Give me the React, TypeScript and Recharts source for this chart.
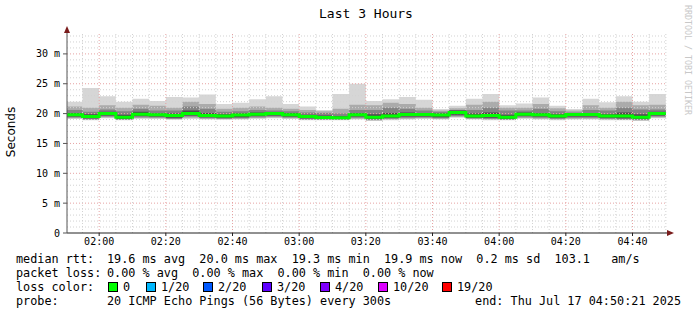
import React from 'react';
import { ComposedChart, Area, Line, XAxis, YAxis, ReferenceLine } from 'recharts';

// 5 minute bins, first one cut by the start of the 3 hour window
const binStarts = [
  '01:50:21', '01:55', '02:00', '02:05', '02:10', '02:15', '02:20', '02:25', '02:30', '02:35', '02:40', '02:45',
  '02:50', '02:55', '03:00', '03:05', '03:10', '03:15', '03:20', '03:25', '03:30', '03:35', '03:40', '03:45',
  '03:50', '03:55', '04:00', '04:05', '04:10', '04:15', '04:20', '04:25', '04:30', '04:35', '04:40', '04:45',
];
const lastBinEnd = '04:50';
const windowStart = '01:50:21';
const windowEnd = '04:50:21';

// rtt in ms, smoke from outside (light) to inside (dark)
const maxRtt = [
  22.0, 24.3, 22.9, 22.0, 22.5, 22.1, 22.8, 22.7, 23.2, 21.6, 21.8, 22.4,
  22.9, 21.6, 21.2, 20.6, 23.3, 25.0, 22.1, 22.4, 22.8, 22.3, 20.75, 21.3,
  22.5, 23.3, 21.4, 21.7, 22.7, 21.3, 20.75, 22.5, 21.9, 22.9, 22.0, 23.3,
];
const hi2 = [
  21.2, 21.0, 21.4, 21.0, 21.5, 21.3, 21.0, 22.0, 21.6, 20.8, 21.0, 21.2,
  21.0, 20.8, 20.6, 20.4, 20.8, 21.5, 21.4, 21.8, 21.6, 21.0, 20.5, 20.9,
  21.5, 22.0, 21.0, 21.0, 21.6, 20.9, 20.5, 21.4, 21.0, 22.0, 21.4, 21.5,
];
const hi3 = [
  20.6, 20.3, 20.7, 20.4, 20.8, 20.5, 20.5, 21.2, 20.8, 20.3, 20.4, 20.6,
  20.5, 20.4, 20.2, 20.1, 20.0, 20.6, 20.6, 21.0, 20.8, 20.5, 20.3, 20.6,
  20.6, 21.0, 20.5, 20.5, 20.8, 20.4, 20.2, 20.6, 20.5, 21.0, 20.7, 20.7,
];
const hi4 = [
  20.1, 19.9, 20.3, 19.8, 20.3, 20.0, 20.0, 20.5, 20.1, 19.9, 20.0, 20.2,
  20.2, 20.1, 19.8, 19.7, 19.6, 20.1, 19.9, 20.1, 20.2, 20.1, 20.0, 20.5,
  20.0, 20.2, 19.8, 20.2, 20.1, 19.9, 20.1, 20.1, 19.9, 20.2, 19.9, 20.3,
];
const medianRtt = [
  19.8, 19.5, 20.0, 19.4, 19.9, 19.8, 19.7, 20.0, 19.7, 19.6, 19.75, 19.9,
  20.0, 19.8, 19.5, 19.35, 19.3, 19.8, 19.4, 19.6, 19.85, 19.85, 19.75, 20.2,
  19.6, 19.7, 19.4, 19.9, 19.8, 19.6, 19.85, 19.85, 19.6, 19.6, 19.4, 20.0,
];
const lo4 = [
  19.5, 19.2, 19.7, 19.1, 19.6, 19.5, 19.3, 19.7, 19.4, 19.3, 19.4, 19.6,
  19.7, 19.5, 19.2, 19.1, 19.1, 19.5, 19.1, 19.3, 19.5, 19.5, 19.4, 19.8,
  19.3, 19.3, 19.1, 19.6, 19.5, 19.3, 19.5, 19.5, 19.3, 19.2, 19.1, 19.7,
];
const lo3 = [
  19.35, 19.05, 19.5, 19.0, 19.4, 19.35, 19.15, 19.5, 19.25, 19.15, 19.25, 19.4,
  19.5, 19.35, 19.05, 19.0, 19.0, 19.3, 18.95, 19.15, 19.3, 19.35, 19.25, 19.6,
  19.2, 19.15, 19.0, 19.4, 19.3, 19.15, 19.3, 19.3, 19.15, 19.05, 18.95, 19.5,
];
const lo2 = [
  19.2, 18.95, 19.35, 18.95, 19.25, 19.2, 19.05, 19.3, 19.1, 19.05, 19.1, 19.25,
  19.35, 19.2, 18.95, 18.95, 18.95, 19.15, 18.85, 19.0, 19.15, 19.2, 19.1, 19.45,
  19.1, 19.0, 18.95, 19.25, 19.15, 19.0, 19.15, 19.15, 19.0, 18.95, 18.85, 19.35,
];
const minRtt = [
  19.1, 18.9, 19.2, 18.9, 19.1, 19.1, 19.0, 19.1, 19.0, 19.0, 19.0, 19.1,
  19.2, 19.1, 18.9, 18.9, 18.9, 19.0, 18.8, 18.9, 19.0, 19.1, 19.0, 19.3,
  19.0, 18.9, 18.9, 19.1, 19.0, 18.9, 19.0, 19.0, 18.9, 18.9, 18.8, 19.2,
];

const xTickLabels = ['02:00', '02:20', '02:40', '03:00', '03:20', '03:40', '04:00', '04:20', '04:40'];
const yTicks = [0, 5, 10, 15, 20, 25, 30];

const statsLine = '19.6 ms avg  20.0 ms max  19.3 ms min  19.9 ms now  0.2 ms sd  103.1   am/s';
const lossLine = '0.00 % avg  0.00 % max  0.00 % min  0.00 % now';
const probeLine = '20 ICMP Echo Pings (56 Bytes) every 300s';
const endLine = 'end: Thu Jul 17 04:50:21 2025';

const lossLabels = ['0', '1/20', '2/20', '3/20', '4/20', '10/20', '19/20'];
const lossColors = ['#00ff00', '#00b8ff', '#0059ff', '#5e00ff', '#7e00ff', '#dd00ff', '#ff0000'];
const lossX = [108, 146, 203, 262, 320, 378, 442];

const toMin = (s: string) => {
  const [h, m, sec] = s.split(':').map(Number);
  return h * 60 + m + (sec || 0) / 60;
};
const fmt = (v: number) => {
  const h = Math.floor(v / 60);
  const m = Math.round(v - h * 60);
  return `${String(h).padStart(2, '0')}:${String(m).padStart(2, '0')}`;
};

const rows = binStarts.map((s, i) => ({
  t: toMin(s),
  outer: [minRtt[i], maxRtt[i]],
  band2: [lo2[i], hi2[i]],
  band3: [lo3[i], hi3[i]],
  band4: [lo4[i], hi4[i]],
  median: medianRtt[i],
}));
rows.push({ ...rows[rows.length - 1], t: toMin(lastBinEnd) });

const xStart = toMin(windowStart);
const xEnd = toMin(windowEnd);
const xTicks = xTickLabels.map(toMin);

// grid: every 5 min / every 1 ms, red ones on the labelled values
const vGrid: number[] = [];
for (let m = 115; m < xEnd; m += 5) vGrid.push(m);
const hGrid: number[] = [];
for (let v = 1; v <= 33; v++) hGrid.push(v);

const mono = 'DejaVu Sans Mono, monospace';
const minorGrid = '#d2d2d2';
const majorGrid = '#e6a3a3';

const App = () => {
  return (
    <div style={{ position: 'relative', width: 697, height: 315, background: '#fff' }}>
      <style>{'body{margin:0}'}</style>
      <ComposedChart
        width={697}
        height={315}
        data={rows}
        margin={{ top: 33, right: 30, bottom: 62, left: 10 }}
      >
        <XAxis
          type="number"
          dataKey="t"
          domain={[xStart, xEnd]}
          allowDataOverflow
          ticks={xTicks}
          tickFormatter={fmt}
          height={20}
          tickSize={3}
          tickMargin={2}
          stroke="#222"
          tick={{ fontFamily: mono, fontSize: 10, fill: '#000' }}
        />
        <YAxis
          type="number"
          domain={[0, 33.5]}
          allowDataOverflow
          ticks={yTicks}
          tickFormatter={(v: number) => (v === 0 ? '0' : `${v} m`)}
          width={57}
          tickSize={4}
          tickMargin={3}
          stroke="#555"
          tick={{ fontFamily: mono, fontSize: 10, fill: '#000' }}
        />
        <Area type="stepAfter" dataKey="outer" stroke="none" fill="#d6d6d6" fillOpacity={1} isAnimationActive={false} />
        <Area type="stepAfter" dataKey="band2" stroke="none" fill="#ababab" fillOpacity={1} isAnimationActive={false} />
        <Area type="stepAfter" dataKey="band3" stroke="none" fill="#838383" fillOpacity={1} isAnimationActive={false} />
        <Area type="stepAfter" dataKey="band4" stroke="none" fill="#4c4c4c" fillOpacity={1} isAnimationActive={false} />
        {hGrid.map((v) => (
          <ReferenceLine
            key={`h${v}`}
            y={v}
            stroke={v % 5 === 0 ? majorGrid : minorGrid}
            strokeDasharray="1 2"
          />
        ))}
        {vGrid.map((m) => (
          <ReferenceLine
            key={`v${m}`}
            x={m}
            stroke={m % 20 === 0 ? majorGrid : minorGrid}
            strokeDasharray="1 2"
          />
        ))}
        <Line
          type="stepAfter"
          dataKey="median"
          stroke="#00ff00"
          strokeWidth={3}
          dot={false}
          isAnimationActive={false}
        />
      </ComposedChart>
      <svg
        width={697}
        height={315}
        style={{ position: 'absolute', left: 0, top: 0, pointerEvents: 'none' }}
      >
        <text x={366} y={18} textAnchor="middle" fontFamily={mono} fontSize={13} fill="#000">
          Last 3 Hours
        </text>
        <text
          x={15}
          y={132}
          transform="rotate(-90 15 132)"
          textAnchor="middle"
          fontFamily="DejaVu Sans, sans-serif"
          fontSize={12}
          fill="#000"
        >
          Seconds
        </text>
        <text
          x={685}
          y={5}
          transform="rotate(90 685 5)"
          fontFamily={mono}
          fontSize={8.3}
          fill="#c8c8c8"
        >
          RRDTOOL / TOBI OETIKER
        </text>
        <polygon points="67,26 64,33 70,33" fill="#7a1c1c" />
        <polygon points="674,233 667,230 667,236" fill="#7a1c1c" />
        <g fontFamily={mono} fontSize={11.8} fill="#000" style={{ whiteSpace: 'pre' }}>
          <text x={16} y={263}>median rtt:</text>
          <text x={107} y={263} xmlSpace="preserve">{statsLine}</text>
          <text x={16} y={277}>packet loss:</text>
          <text x={107} y={277} xmlSpace="preserve">{lossLine}</text>
          <text x={16} y={291}>loss color:</text>
          {lossLabels.map((l, i) => (
            <g key={l}>
              <rect x={lossX[i] + 0.5} y={282.5} width={9} height={9} fill={lossColors[i]} stroke="#000" />
              <text x={lossX[i] + 15} y={291}>{l}</text>
            </g>
          ))}
          <text x={16} y={305}>probe:</text>
          <text x={107} y={305} xmlSpace="preserve">{probeLine}</text>
          <text x={681} y={305} textAnchor="end" xmlSpace="preserve">{endLine}</text>
        </g>
      </svg>
    </div>
  );
};

export default App;
